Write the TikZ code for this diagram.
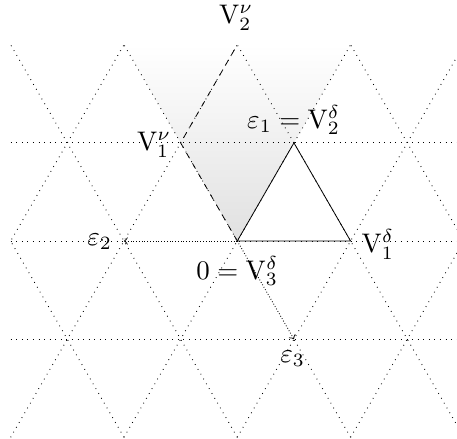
\documentclass[tikz,border=0pt]{standalone}
\usetikzlibrary{calc}
\begin{document}
\begin{tikzpicture}[x=2cm,y=2cm,
  lat/.style={dash pattern=on 0.4pt off 2.4pt, line width=0.45pt},
  lbl/.style={inner sep=0pt, scale=1.35}]
\def\hh{0.8660254}
\useasboundingbox (-2.094,-1.739) rectangle (1.939,2.127);
% points
\coordinate (O) at (0,0);
\coordinate (V1d) at (1,0);
\coordinate (e1) at (0.5,\hh);
\coordinate (e2) at (-1,0);
\coordinate (e3) at (0.5,-\hh);
\coordinate (V1n) at (-0.5,\hh);
\coordinate (V2n) at (0,2*\hh);
\coordinate (Ltop) at (-1,2*\hh);
\coordinate (Rtop) at (1,2*\hh);
% shaded cone
\shade[top color=white,bottom color=black!12] (O) -- (Ltop) -- (Rtop) -- cycle;
% lattice
\begin{scope}
\clip (-2,-2*\hh) rectangle (2,2*\hh);
\foreach \k in {-1,0,1} \draw[lat] (-2,\k*\hh) -- (2,\k*\hh);
\foreach \k in {-4,...,4} {
  \draw[lat] (\k-1,-2*\hh) -- (\k+1,2*\hh);
  \draw[lat] (\k+1,-2*\hh) -- (\k-1,2*\hh);
}
\end{scope}
% arrows
\draw[lat,->] (O) -- (e2);
\draw[lat,->] (O) -- (e3);
% triangle
\draw (O) -- (V1d) -- (e1) -- cycle;
% dashed
\draw[dashed] (O) -- (V1n) -- (V2n);
% labels
\node[lbl] (lV2n) at (-0.01,1.97) {$\mathrm{V}^{\nu}_{2}$};
\node[lbl] (le1) at (0.497,1.068) {$\varepsilon_1 = \mathrm{V}^{\delta}_{2}$};
\node[lbl] (lV1n) at (-0.735,0.85) {$\mathrm{V}^{\nu}_{1}$};
\node[lbl] (le2) at (-1.215,-0.01) {$\varepsilon_2$};
\node[lbl] (lO) at (0,-0.265) {$0 = \mathrm{V}^{\delta}_{3}$};
\node[lbl] (lV1d) at (1.24,-0.03) {$\mathrm{V}^{\delta}_{1}$};
\node[lbl] (le3) at (0.488,-1.04) {$\varepsilon_3$};
\end{tikzpicture}
\end{document}
